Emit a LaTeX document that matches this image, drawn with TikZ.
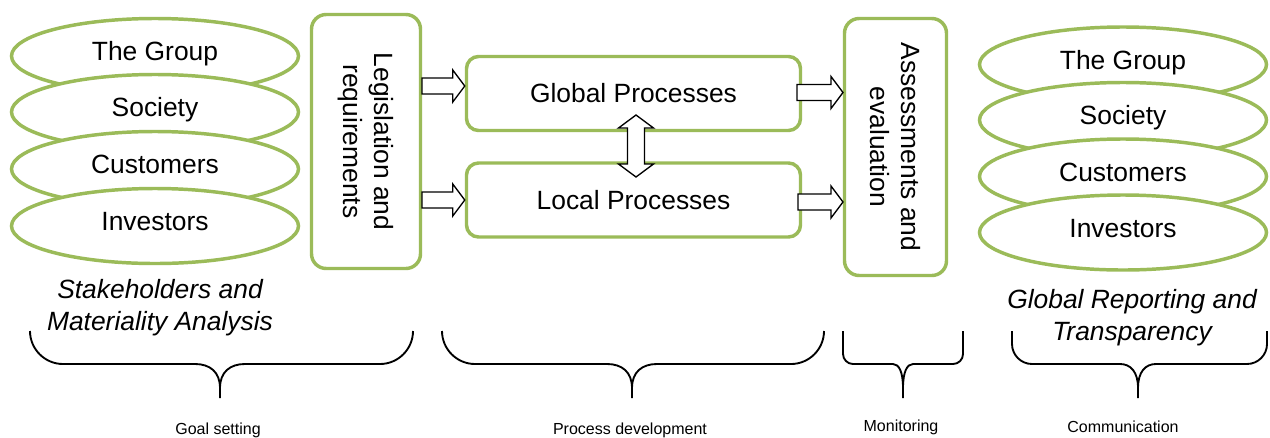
\documentclass[tikz,border=0pt]{standalone}
\usepackage{fontspec}
\setmainfont{Liberation Sans}
\usetikzlibrary{shapes.geometric,calc}
\definecolor{leaf}{RGB}{155,187,89}

% right-pointing block arrow from tail #1 to tip #2 (same height)
\newcommand{\rblock}[2]{%
  \draw[blockarrow] ($(#1)+(0,-8)$) -- ($(#2)+(-12,-8)$) -- ($(#2)+(-12,-16)$)
    -- (#2) -- ($(#2)+(-12,16)$) -- ($(#2)+(-12,8)$) -- ($(#1)+(0,8)$) -- cycle;}

% curly brace: left end x, tip x, right end x, end radius, tip half-width
\newcommand{\groupbrace}[5]{%
  \draw[bracestyle] (#1,331) -- (#1,364-#4) .. controls (#1,364-0.45*#4) and (#1+0.45*#4,364) .. (#1+#4,364)
    -- (#2-#5,364) .. controls (#2-0.4*#5,364) and (#2,372) .. (#2,388) -- (#2,398);
  \draw[bracestyle] (#3,331) -- (#3,364-#4) .. controls (#3,364-0.45*#4) and (#3-0.45*#4,364) .. (#3-#4,364)
    -- (#2+#5,364) .. controls (#2+0.4*#5,364) and (#2,372) .. (#2,388);}

\begin{document}
\begin{tikzpicture}[x=0.75pt,y=-0.75pt,
  bigfont/.style={font=\fontsize{19.8}{23}\selectfont},
  ell/.style={ellipse, draw=leaf, line width=2.6pt, fill=white,
    minimum width=215.25pt, minimum height=56.25pt, inner sep=0pt,
    text height=14.5pt, text depth=7.5pt, bigfont},
  box/.style={rectangle, draw=leaf, line width=2.6pt, align=center,
    inner sep=0pt, bigfont},
  blockarrow/.style={draw=black, fill=white, line width=1pt, line join=miter},
  bracestyle/.style={draw=black, line width=1.4pt},
  heading/.style={align=center, font=\fontsize{19.8}{24}\selectfont\itshape},
  phase/.style={font=\fontsize{12}{14}\selectfont}]

\useasboundingbox (0,0) rectangle (1270,437);

% stakeholder stack (left)
\node[ell] (lgrp) at (155,56)  {The Group};
\node[ell] (lsoc) at (155,112) {Society};
\node[ell] (lcus) at (155,169) {Customers};
\node[ell] (linv) at (155,226) {Investors};

% stakeholder stack (right)
\node[ell] (rgrp) at (1123,64.5)  {The Group};
\node[ell] (rsoc) at (1123,120)   {Society};
\node[ell] (rcus) at (1123,176.5) {Customers};
\node[ell] (rinv) at (1123,232.5) {Investors};

% process boxes
\node[box, rotate=-90, minimum width=190.5pt, minimum height=81.75pt,
  rounded corners=11pt] (leg) at (366,141.5) {Legislation and\\requirements};
\node[box, minimum width=250.5pt, minimum height=55.5pt,
  rounded corners=9pt] (glob) at (633.5,93.5) {Global Processes};
\node[box, minimum width=250.5pt, minimum height=55.5pt,
  rounded corners=9pt] (loc) at (633.5,200) {Local Processes};
\node[box, rotate=-90, minimum width=192.75pt, minimum height=76.5pt,
  rounded corners=11pt] (assess) at (895.5,147) {Assessments and\\evaluation};

% block arrows
\coordinate (a1tail) at (422,86);
\coordinate (a1tip) at (glob.west |- a1tail);
\coordinate (a2tail) at (422,200);
\coordinate (a2tip) at (loc.west |- a2tail);
\coordinate (b1tail) at (797,92.5);
\coordinate (b1tip) at (843,92.5);
\coordinate (b2tail) at (798,202);
\coordinate (b2tip) at (843,202);
\rblock{a1tail}{a1tip}
\rblock{a2tail}{a2tip}
\rblock{b1tail}{b1tip}
\rblock{b2tail}{b2tip}

% two-way arrow between global and local processes
\coordinate (dtop) at (636,115);
\coordinate (dbot) at (636,177);
\draw[blockarrow] (dtop) -- ($(dtop)+(17.5,13)$) -- ($(dtop)+(8.5,13)$)
  -- ($(dbot)+(8.5,-13)$) -- ($(dbot)+(17.5,-13)$) -- (dbot)
  -- ($(dbot)+(-17.5,-13)$) -- ($(dbot)+(-8.5,-13)$)
  -- ($(dtop)+(-8.5,13)$) -- ($(dtop)+(-17.5,13)$) -- cycle;

% headings
\node[heading] (stake) at (160,308) {Stakeholders and\\Materiality Analysis};
\node[heading] (report) at (1132,318) {Global Reporting and\\Transparency};

% phase braces
\groupbrace{30}{220}{413}{33}{25}
\groupbrace{442}{632}{824}{33}{25}
\groupbrace{843}{903}{963}{10}{10}
\groupbrace{1012}{1138}{1267}{20}{18}

% phase names
\node[phase] (goal) at (218,430) {Goal setting};
\node[phase] (dev) at (630,430) {Process development};
\node[phase] (mon) at (901,427) {Monitoring};
\node[phase] (comm) at (1123,427) {Communication};

\end{tikzpicture}
\end{document}
